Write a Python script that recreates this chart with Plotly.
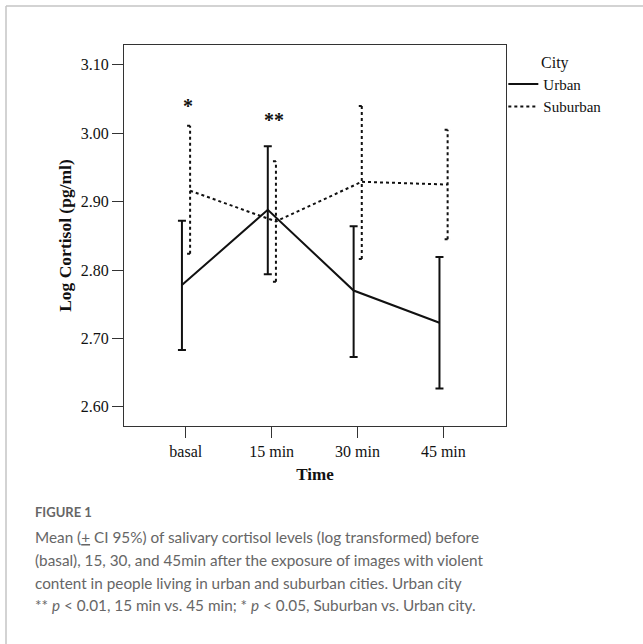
import plotly.graph_objects as go

categories = ["basal", "15 min", "30 min", "45 min"]
urban_mean = [2.778, 2.888, 2.770, 2.723]
urban_upper = [2.872, 2.981, 2.864, 2.819]
urban_lower = [2.683, 2.794, 2.673, 2.627]
suburban_mean = [2.916, 2.871, 2.929, 2.925]
suburban_upper = [3.011, 2.959, 3.040, 3.005]
suburban_lower = [2.824, 2.783, 2.816, 2.845]
y_ticks = [2.60, 2.70, 2.80, 2.90, 3.00, 3.10]
star_labels = ["*", "**"]
star_y = [3.040, 3.020]

idx = list(range(len(categories)))
ux = [i - 0.045 for i in idx]
sx = [i + 0.05 for i in idx]

SERIF = "Liberation Serif"
INK = "#111111"

fig = go.Figure()

fig.add_trace(go.Scatter(
    x=ux, y=urban_mean, mode="lines", name="Urban",
    line=dict(color=INK, width=2),
    error_y=dict(type="data", symmetric=False,
                 array=[u - m for u, m in zip(urban_upper, urban_mean)],
                 arrayminus=[m - l for m, l in zip(urban_mean, urban_lower)],
                 color=INK, thickness=2, width=4),
))

fig.add_trace(go.Scatter(
    x=sx, y=suburban_mean, mode="lines", name="Suburban",
    line=dict(color=INK, width=2, dash="dot"),
))

# dotted CI bars for Suburban
vx, vy = [], []
cap = 0.035
for x, lo, hi in zip(sx, suburban_lower, suburban_upper):
    vx += [x, x, None, x - cap, x + cap, None, x - cap, x + cap, None]
    vy += [lo, hi, None, hi, hi, None, lo, lo, None]
fig.add_trace(go.Scatter(
    x=vx, y=vy, mode="lines", showlegend=False, hoverinfo="skip",
    line=dict(color=INK, width=2, dash="dot"),
))

annotations = []
for i, (lab, yv) in enumerate(zip(star_labels, star_y)):
    annotations.append(dict(x=i + 0.03, y=yv, xref="x", yref="y", text="<b>" + lab + "</b>",
                            showarrow=False, font=dict(family=SERIF, size=20, color=INK)))

# caption
def py(pix):
    return (426 - pix) / 381.0

def px(pix):
    return (pix - 124) / 382.0

CAP_FONT = "Lato"
CAP_COL = "#666666"
annotations.append(dict(x=px(33), y=py(512), xref="paper", yref="paper",
                        xanchor="left", yanchor="middle", showarrow=False,
                        text="<b>FIGURE 1</b>",
                        font=dict(family=CAP_FONT, size=13, color=CAP_COL)))
caption_lines = [
    "Mean (<u>+</u> CI 95%) of salivary cortisol levels (log transformed) before",
    "(basal), 15, 30, and 45min after the exposure of images with violent",
    "content in people living in urban and suburban cities. Urban city",
    "** <i>p</i> &lt; 0.01, 15 min vs. 45 min; * <i>p</i> &lt; 0.05, Suburban vs. Urban city.",
]
caption_y = [537, 560, 583, 605]
for t, yy in zip(caption_lines, caption_y):
    annotations.append(dict(x=px(33), y=py(yy), xref="paper", yref="paper",
                            xanchor="left", yanchor="middle", showarrow=False,
                            text=t, font=dict(family=CAP_FONT, size=15.3, color=CAP_COL)))

shapes = [
    dict(type="line", xref="paper", yref="paper", x0=px(6), x1=px(643), y0=py(6), y1=py(6),
         line=dict(color="#c4c4c4", width=1.5)),
    dict(type="line", xref="paper", yref="paper", x0=px(6), x1=px(6), y0=py(6), y1=py(644),
         line=dict(color="#c4c4c4", width=1.5)),
]

fig.update_layout(
    width=643, height=644,
    margin=dict(l=124, r=137, t=45, b=218, autoexpand=False),
    paper_bgcolor="white", plot_bgcolor="white",
    showlegend=True,
    legend=dict(x=0.993, y=py(47), xanchor="left", yanchor="top",
                title=dict(text="City", side="top center",
                           font=dict(family=SERIF, size=16, color=INK)),
                font=dict(family=SERIF, size=15, color=INK),
                itemwidth=30, tracegroupgap=0, bgcolor="rgba(0,0,0,0)"),
    annotations=annotations,
    shapes=shapes,
    xaxis=dict(range=[-0.72, 3.73], tickmode="array", tickvals=idx, ticktext=categories,
               showgrid=False, zeroline=False, showline=True, linecolor="#333", linewidth=1,
               mirror=True, ticks="outside", ticklen=11, tickcolor="#333", tickwidth=1,
               tickfont=dict(family=SERIF, size=16, color=INK),
               title=dict(text="<b>Time</b>", font=dict(family=SERIF, size=17, color=INK),
                          standoff=8)),
    yaxis=dict(range=[2.572, 3.129], tickmode="array", tickvals=y_ticks,
               ticktext=[f"{v:.2f}" for v in y_ticks],
               showgrid=False, zeroline=False, showline=True, linecolor="#333", linewidth=1,
               mirror=True, ticks="outside", ticklen=11, tickcolor="#333", tickwidth=1,
               tickfont=dict(family=SERIF, size=16, color=INK),
               title=dict(text="<b>Log Cortisol (pg/ml)</b>",
                          font=dict(family=SERIF, size=17.5, color=INK), standoff=4)),
)

fig.write_html("out.html", config={"displayModeBar": False},
               post_script="document.body.style.margin='0';")
